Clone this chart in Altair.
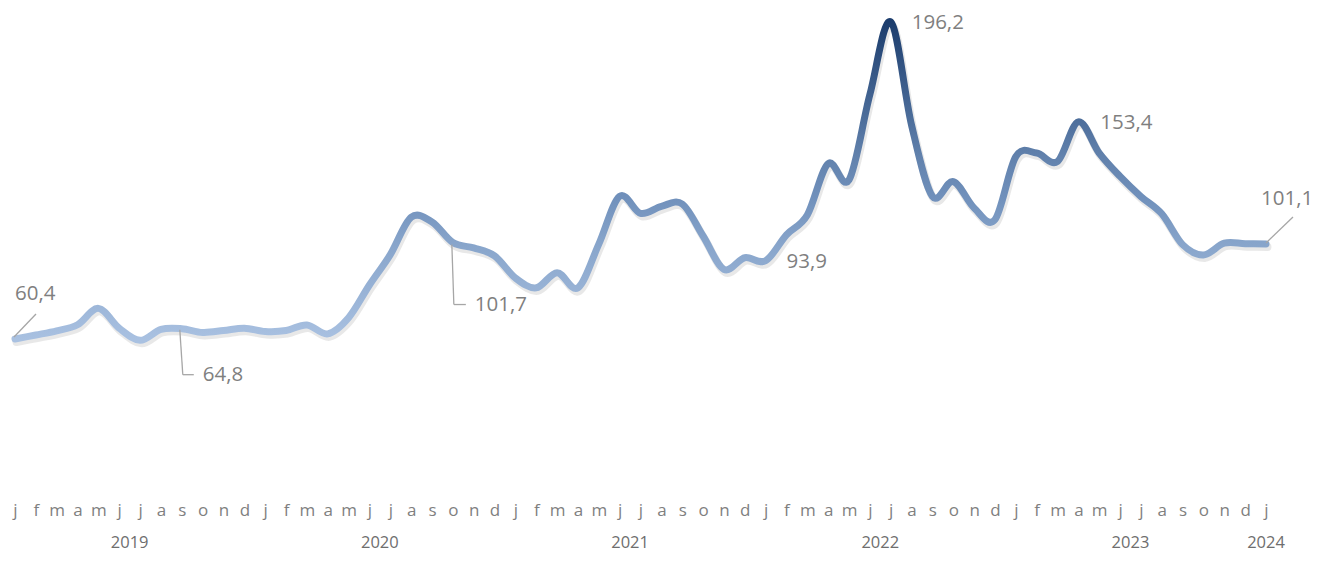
import altair as alt
import pandas as pd

# ---- data (monthly, Jan 2019 .. Jan 2024) ----
month_letters = ["j", "f", "m", "a", "m", "j", "j", "a", "s", "o", "n", "d"]
values = [
    60.4, 62.1, 63.9, 66.5, 73.5, 65.0, 59.8, 64.5, 64.8, 63.2, 64.0, 65.0,   # 2019
    63.6, 64.0, 66.4, 62.6, 69.5, 83.5, 96.5, 112.5, 110.5, 101.7, 99.4, 96.0,  # 2020
    86.5, 82.3, 88.8, 82.3, 101.0, 121.5, 114.2, 117.2, 118.2, 104.5, 90.2, 95.2,  # 2021
    93.9, 105.0, 113.5, 135.5, 128.5, 165.0, 196.2, 152.0, 121.5, 127.8, 116.5, 111.5,  # 2022
    138.5, 140.0, 136.4, 153.4, 140.0, 130.0, 121.4, 114.0, 100.8, 96.4, 101.4, 101.2,  # 2023
    101.1,  # 2024
]
years = ["2019", "2020", "2021", "2022", "2023", "2024"]
year_centers = [5.5, 17.5, 29.5, 41.5, 53.5, 60]
label_idx = [0, 8, 21, 36, 42, 51, 60]
label_text = ["60,4", "64,8", "101,7", "93,9", "196,2", "153,4", "101,1"]

df = pd.DataFrame({"idx": list(range(len(values))), "v": values})
ydf = pd.DataFrame({"idx": year_centers, "year": years})

FONT = "Open Sans"
GREY = "#7f7f7f"

xs = alt.Scale(domain=[0, 60], nice=False, zero=False)
ys = alt.Scale(domain=[0, 200], nice=False, zero=False)

month_expr = "[" + ",".join("'%s'" % m for m in month_letters) + "][datum.value % 12]"

x_axis = alt.Axis(
    values=list(range(61)), labelExpr=month_expr, grid=False, domain=False,
    ticks=False, labelPadding=22, labelFontSize=17, labelColor=GREY, labelFont=FONT,
    labelOverlap=False, labelFlush=False, labelBound=False, title=None,
)


def X():
    return alt.X("idx:Q", scale=xs, axis=x_axis)


def Y():
    return alt.Y("v:Q", scale=ys, axis=None)


grad = alt.Gradient(
    gradient="linear", x1=0, x2=0, y1=1, y2=0,
    stops=[
        alt.GradientStop(offset=0.0, color="#a9c1e1"),
        alt.GradientStop(offset=0.30, color="#88a5cb"),
        alt.GradientStop(offset=0.45, color="#7090bb"),
        alt.GradientStop(offset=0.58, color="#6181ac"),
        alt.GradientStop(offset=0.68, color="#4f709d"),
        alt.GradientStop(offset=1.0, color="#1c3d6d"),
    ],
)

base = alt.Chart(df)

shadow = base.mark_line(
    interpolate="cardinal", color="#303030", opacity=0.11, strokeWidth=8,
    yOffset=3, xOffset=1.5, strokeCap="round", strokeJoin="round",
).encode(x=X(), y=Y())

line = base.mark_line(
    interpolate="cardinal", color=grad, strokeWidth=7, strokeCap="round", strokeJoin="round",
).encode(x=X(), y=Y())

year_text = alt.Chart(ydf).mark_text(
    font=FONT, fontSize=16.5, color="#6e6e6e", baseline="middle", align="center",
).encode(x=X(), y=alt.value(530), text="year:N")

# label placement (pixel offsets from the point) and leader segments
label_style = {
    0: dict(dx=0, dy=-45, leaders=[(-1, -2, 21, -25)]),
    8: dict(dx=21, dy=46, leaders=[(-2, 1, 1, 46), (1, 46, 12, 46)]),
    21: dict(dx=22, dy=62, leaders=[(-1, 2, 1, 62), (1, 62, 13, 62)]),
    36: dict(dx=21, dy=1, leaders=[]),
    42: dict(dx=21, dy=1, leaders=[]),
    51: dict(dx=22, dy=1, leaders=[]),
    60: dict(dx=-5, dy=-45, leaders=[(0, -1, 27, -27)]),
}

layers = [shadow, line, year_text]
for idx, txt in zip(label_idx, label_text):
    st = label_style[idx]
    ldf = pd.DataFrame({"idx": [idx], "v": [values[idx]], "t": [txt]})
    lb = alt.Chart(ldf)
    for (ax, ay, bx, by) in st["leaders"]:
        layers.append(
            lb.mark_rule(color="#a6a6a6", strokeWidth=1.3, xOffset=ax, yOffset=ay,
                         x2Offset=bx, y2Offset=by).encode(
                x=X(), y=Y(), x2="idx:Q", y2="v:Q")
        )
    layers.append(
        lb.mark_text(font=FONT, fontSize=20.5, color=GREY, align="left", baseline="middle",
                     dx=st["dx"], dy=st["dy"]).encode(x=X(), y=Y(), text="t:N")
    )

chart = alt.layer(*layers).properties(
    width=1251, height=467,
    autosize=alt.AutoSizeParams(type="none"),
    padding={"left": 7, "top": 5, "right": 51, "bottom": 77},
).configure_view(stroke=None)

chart.save("out.html", embed_options={"renderer": "svg", "actions": False})
